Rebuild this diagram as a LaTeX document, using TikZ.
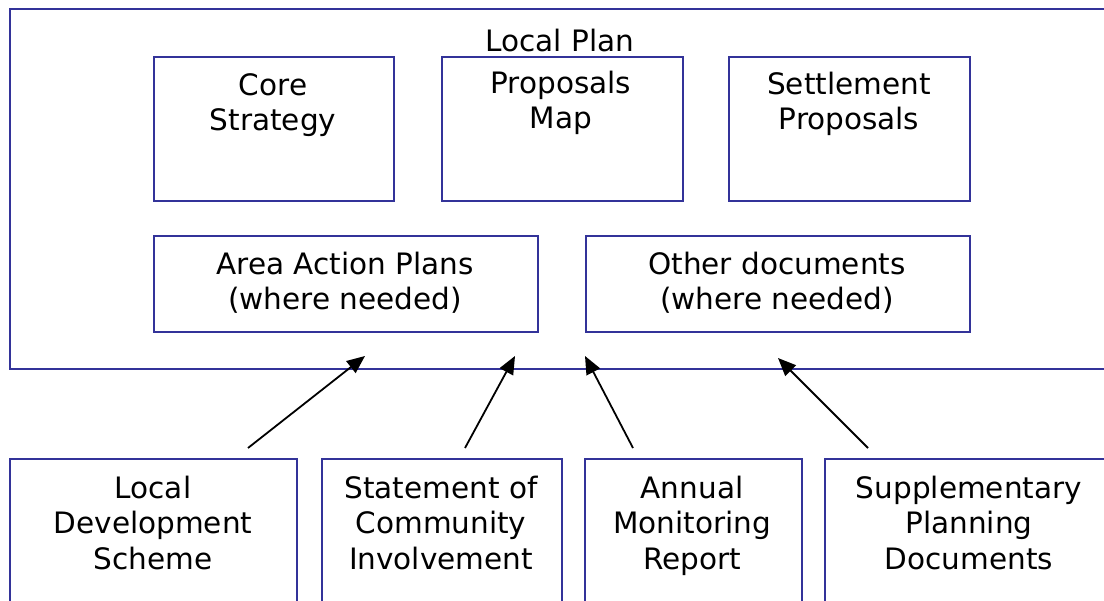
\documentclass[tikz,border=0pt]{standalone}
\usepackage{fontspec}
\setmainfont{DejaVu Sans}
\usetikzlibrary{arrows.meta}
\definecolor{boxblue}{HTML}{333399}
\begin{document}
\begin{tikzpicture}[x=1pt,y=-1pt,
  box/.style={draw=boxblue, line width=2.2pt, rectangle, inner sep=0pt, anchor=north west},
  txt/.style={font=\fontsize{29.5}{35.5}\selectfont, align=center, anchor=base, inner sep=0pt},
  arr/.style={line width=1.8pt, -{Triangle[length=18pt,width=15pt]}}]
\useasboundingbox (0,0) rectangle (1104,601);
\clip (0,0) rectangle (1104,601);
% outer local plan frame
\node[box, minimum width=1120, minimum height=360] (lp) at (9,8) {};
\node[txt] (lpt) at (560,52) {Local Plan};
% top row
\node[box, minimum width=240, minimum height=144] (core) at (153,56) {};
\node[txt] (coret) at (273,131) {Core\\Strategy};
\node[box, minimum width=241, minimum height=144] (prop) at (441,56) {};
\node[txt] (propt) at (561,129) {Proposals\\Map};
\node[box, minimum width=241, minimum height=144] (sett) at (728,56) {};
\node[txt] (settt) at (849,130) {Settlement\\Proposals};
% middle row
\node[box, minimum width=384, minimum height=96] (aap) at (153,235) {};
\node[txt] (aapt) at (345,310) {Area Action Plans\\(where needed)};
\node[box, minimum width=384, minimum height=96] (oth) at (585,235) {};
\node[txt] (otht) at (777,310) {Other documents\\(where needed)};
% bottom row
\node[box, minimum width=287, minimum height=200] (lds) at (9,458) {};
\node[txt] (ldst) at (153,569) {Local\\Development\\Scheme};
\node[box, minimum width=240, minimum height=200] (sci) at (321,458) {};
\node[txt] (scit) at (441,569) {Statement of\\Community\\Involvement};
\node[box, minimum width=217, minimum height=200] (amr) at (584,458) {};
\node[txt] (amrt) at (692,569) {Annual\\Monitoring\\Report};
\node[box, minimum width=320, minimum height=200] (spd) at (824,458) {};
\node[txt] (spdt) at (969,569) {Supplementary\\Planning\\Documents};
% arrows
\coordinate (s1) at (248,448); \coordinate (e1) at (365,356);
\coordinate (s2) at (465,448); \coordinate (e2) at (515,356);
\coordinate (s3) at (633,448); \coordinate (e3) at (585,356);
\coordinate (s4) at (868,448); \coordinate (e4) at (778,358);
\draw[arr] (s1) -- (e1);
\draw[arr] (s2) -- (e2);
\draw[arr] (s3) -- (e3);
\draw[arr] (s4) -- (e4);
\end{tikzpicture}
\end{document}
